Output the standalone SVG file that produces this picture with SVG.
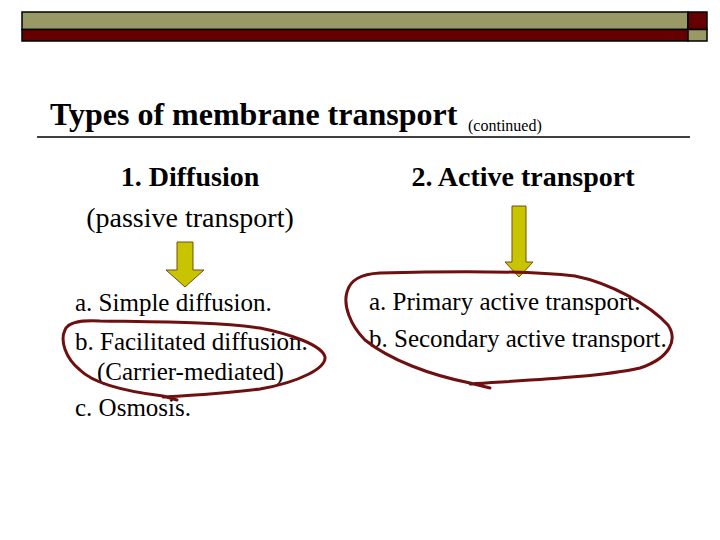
<svg xmlns="http://www.w3.org/2000/svg" width="720" height="540" viewBox="0 0 720 540">
<style>
.t{font-family:"Liberation Serif","Times New Roman",serif;fill:#000}
.b{font-weight:bold}
.arrow{fill:#c8c400;stroke:#7a4a10;stroke-width:1}
.loop{fill:none;stroke:#6e0f10;stroke-width:3;stroke-linecap:round;stroke-linejoin:round}
</style>
<rect width="720" height="540" fill="#fff"/>
<g id="header">
<rect x="22" y="12" width="666" height="17.5" fill="#999966" stroke="#000" stroke-width="1.5"/>
<rect x="688" y="12" width="19" height="17.5" fill="#660000" stroke="#000" stroke-width="1.5"/>
<rect x="22" y="29.5" width="666" height="11.5" fill="#660000" stroke="#000" stroke-width="1.5"/>
<rect x="688" y="29.5" width="19" height="11.5" fill="#999966" stroke="#000" stroke-width="1.5"/>
</g>
<g id="title">
<text class="t b" x="50" y="125" font-size="32">Types of membrane transport</text>
<text class="t" x="468" y="131" font-size="16">(continued)</text>
<line x1="37" y1="137" x2="690" y2="137" stroke="#000" stroke-width="1.5"/>
</g>
<g id="diffusion">
<text class="t b" x="190" y="186" font-size="28" text-anchor="middle">1. Diffusion</text>
<text class="t" x="190" y="227" font-size="28" text-anchor="middle">(passive transport)</text>
</g>
<g id="active">
<text class="t b" x="523" y="186" font-size="28" text-anchor="middle">2. Active transport</text>
</g>
<g id="connectors">
<path class="arrow" d="M177,242 H193 V270 H204 L185,287 L166,270 H177 Z"/>
<path class="arrow" d="M512,206 H526 V262 H533 L519,277 L505,262 H512 Z"/>
</g>
<g id="diffusion-list">
<text class="t" x="75" y="311" font-size="25">a. Simple diffusion.</text>
<text class="t" x="75" y="350" font-size="25">b. Facilitated diffusion.</text>
<text class="t" x="97" y="380" font-size="25">(Carrier-mediated)</text>
<text class="t" x="75" y="416" font-size="25">c. Osmosis.</text>
</g>
<g id="active-list">
<text class="t" x="369" y="310" font-size="25">a. Primary active transport.</text>
<text class="t" x="369" y="347" font-size="25">b. Secondary active transport.</text>
</g>
<g id="annotations">
<path class="loop" d="M177,400 L163,396 C130,392 95,385 80,370 C65,358 60,340 65,330 C68,322 80,320 100,321 C160,322 220,322 260,328 C290,334 322,345 325,357 C326,368 300,382 260,389 C230,393 200,395 163,397"/>
<path class="loop" d="M490,388 L470,383 C430,375 390,360 365,340 C350,325 343,305 347,292 C350,280 360,274 380,273 C450,271 530,271 575,276 C610,283 650,305 668,325 C678,340 670,358 640,368 C600,377 530,380 470,384"/>
</g>
</svg>
